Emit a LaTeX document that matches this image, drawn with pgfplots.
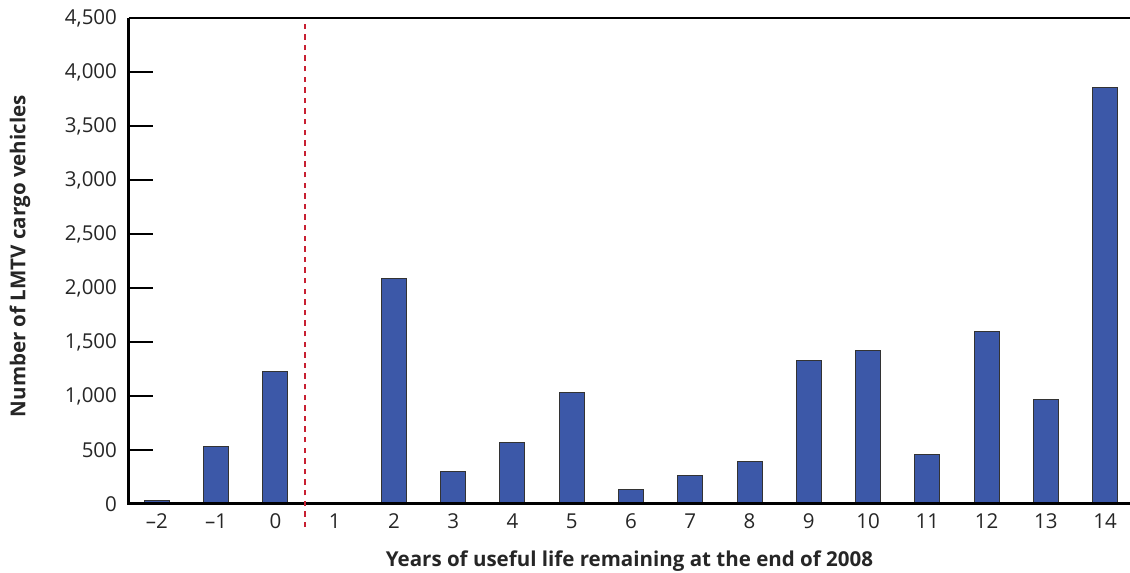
\documentclass[border=0pt]{standalone}
\usepackage{pgfplots}
\pgfplotsset{compat=1.18}
\usepackage{fontspec}
\setmainfont{Open Sans}
\definecolor{barblue}{RGB}{60,88,168}
\definecolor{dashred}{RGB}{200,32,50}
\begin{document}
\begin{tikzpicture}
\begin{axis}[
 scale only axis, width=500.5bp, height=243bp,
 xmin=-2.47, xmax=14.42, ymin=0, ymax=4500,
 axis line style={draw=none},
 xtick={-2,-1,0,1,2,3,4,5,6,7,8,9,10,11,12,13,14},
 xticklabels={–2,–1,0,1,2,3,4,5,6,7,8,9,10,11,12,13,14},
 xtick style={draw=none},
 ytick={0,500,1000,1500,2000,2500,3000,3500,4000,4500},
 ytick pos=left, tick align=inside, major tick length=12bp,
 ytick style={black, line width=0.6bp},
 /pgf/number format/1000 sep={,},
 /pgf/number format/assume math mode=true,
 tick label style={font=\fontsize{10.3}{12}\selectfont, text=black!85},
 xticklabel style={yshift=-1.5bp},
 yticklabel style={xshift=-2.5bp},
 xlabel={Years of useful life remaining at the end of 2008},
 ylabel={Number of LMTV cargo vehicles},
 label style={font=\fontsize{10.3}{12}\selectfont\bfseries, text=black!85},
 xlabel style={at={(axis description cs:0.5,0)}, anchor=base, yshift=-31bp},
 ylabel style={at={(axis description cs:-0.109,0.51)}, anchor=center},
 clip=false,
]
\addplot[ybar, bar width=12.5bp, fill=barblue, draw=black!80, line width=0.5bp]
 coordinates {(-2,30) (-1,535) (0,1230) (2,2090) (3,298) (4,565) (5,1035) (6,135) (7,268) (8,398) (9,1325) (10,1425) (11,462) (12,1593) (13,963) (14,3852)};
\draw[line width=0.8bp] (rel axis cs:0,1) -- (rel axis cs:1,1);
\draw[line width=1.5bp] (rel axis cs:0,1) -- (rel axis cs:0,0) -- (rel axis cs:1,0);
\addplot[dashred, line width=1.4bp, dash pattern=on 2.7bp off 2.6bp] coordinates {(0.5,-215) (0.5,4465)};
\coordinate (ll) at (rel axis cs:0,0);
\coordinate (ur) at (rel axis cs:1,1);
\end{axis}
\pgfresetboundingbox
\path[use as bounding box] ([xshift=-64.5bp,yshift=-34.5bp]ll) rectangle ([yshift=9bp]ur);
\end{tikzpicture}
\end{document}
